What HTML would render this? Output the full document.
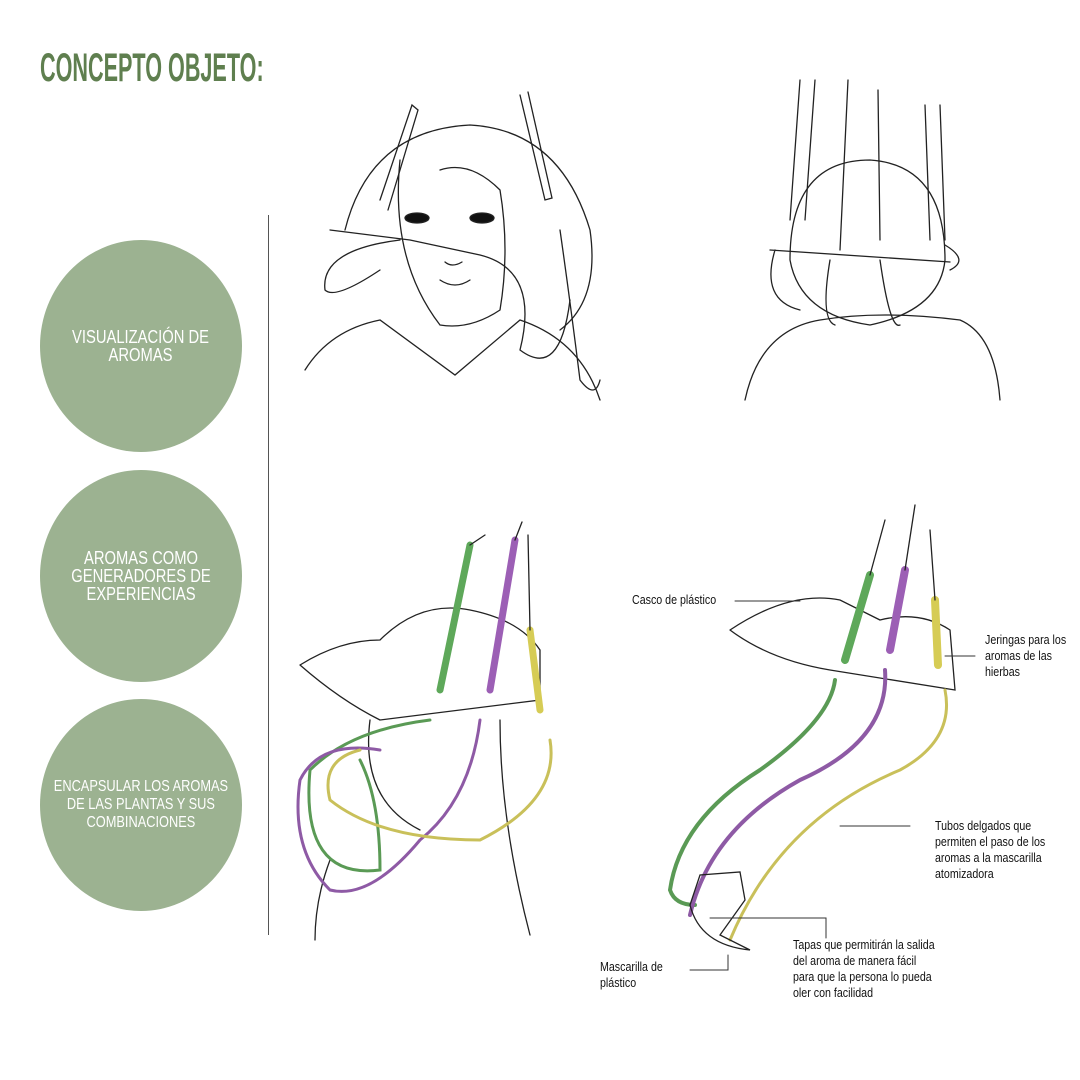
<!DOCTYPE html>
<html><head><meta charset="utf-8"><style>
html,body{margin:0;padding:0;background:#fff;}
body{width:1080px;height:1080px;position:relative;overflow:hidden;font-family:"Liberation Sans",sans-serif;}
.t{position:absolute;left:40px;top:46px;font-size:40px;font-weight:bold;color:#5f7f4f;transform:scaleX(0.54);transform-origin:left top;white-space:nowrap;}
.c{position:absolute;width:202px;height:212px;border-radius:50%;background:#9cb291;color:#fff;display:flex;align-items:center;justify-content:center;text-align:center;}
.c span{display:inline-block;white-space:nowrap;font-size:18px;line-height:18px;transform:scaleX(0.82);}
.vl{position:absolute;left:268px;top:215px;width:1px;height:720px;background:#555;}
.l{position:absolute;font-size:13px;line-height:16px;color:#111;white-space:nowrap;transform:scaleX(0.82);transform-origin:left top;}
</style></head><body>
<div class="t">CONCEPTO OBJETO:</div>
<div class="c" style="left:40px;top:240px;"><span>VISUALIZACIÓN DE<br>AROMAS</span></div>
<div class="c" style="left:40px;top:470px;"><span>AROMAS COMO<br>GENERADORES DE<br>EXPERIENCIAS</span></div>
<div class="c" style="left:40px;top:699px;"><span style="font-size:16px;transform:scaleX(0.8)">ENCAPSULAR LOS AROMAS<br>DE LAS PLANTAS Y SUS<br>COMBINACIONES</span></div>
<div class="vl"></div>
<svg width="1080" height="1080" style="position:absolute;left:0;top:0" fill="none" stroke="#222" stroke-width="1.3" stroke-linecap="round">
<path d="M305 370 Q330 330 380 320 L455 375 L520 320 Q580 340 600 400"/>
<path d="M345 230 Q370 130 470 125 Q560 130 590 230 Q600 300 560 330"/>
<path d="M400 160 Q390 260 440 325 Q470 330 500 310 Q510 250 500 190 Q470 160 440 170"/>
<ellipse cx="417" cy="218" rx="12" ry="5" fill="#111"/><ellipse cx="482" cy="218" rx="12" ry="5" fill="#111"/>
<path d="M440 280 Q455 290 470 280 M445 262 Q452 268 462 262"/>
<path d="M380 200 L412 105 L418 110 L388 210"/><path d="M520 95 L545 200 L552 198 L528 92"/>
<path d="M330 230 L410 240 L480 255 M400 240 Q320 250 325 290 Q335 300 380 270 M480 255 Q540 270 520 350 Q560 380 570 300"/>
<path d="M560 230 Q570 300 580 380 Q595 400 600 380"/>
<path d="M745 400 Q760 330 820 320 Q880 310 960 320 Q995 335 1000 400"/>
<path d="M790 260 Q790 160 870 160 Q945 165 945 260 Q940 310 870 325 Q800 315 790 260"/>
<path d="M800 80 L790 220 M815 80 L805 220 M848 80 L840 250 M878 90 L880 240 M925 105 L930 240 M940 105 L945 240"/>
<path d="M770 250 L950 262 M775 250 Q760 300 800 310 M945 245 Q970 260 950 270"/>
<path d="M830 260 Q820 320 835 325 M880 260 Q890 330 900 325"/>
<path d="M300 665 Q340 640 380 640 Q420 600 470 610 Q520 620 540 650 L540 700 L380 720 Q340 700 300 665"/>
<path d="M370 720 Q360 800 420 830 M500 720 Q500 820 530 935 M330 860 Q315 900 315 940"/>
<g stroke-width="7" stroke-linecap="round">
<path d="M440 690 L470 545" stroke="#5ea85a"/><path d="M490 690 L515 540" stroke="#9c5fb5"/><path d="M540 710 L530 630" stroke="#d6cc55"/>
</g>
<path d="M470 545 L485 535 M515 540 L522 522 M530 630 L528 535"/>
<g stroke-width="3">
<path d="M430 720 Q350 730 310 770 Q300 880 380 870 Q380 800 360 760" stroke="#5a9a55"/>
<path d="M480 720 Q470 800 420 840 Q370 900 330 890 Q290 850 300 780 Q320 740 380 750" stroke="#8e5aa5"/>
<path d="M550 740 Q560 800 480 840 Q380 840 330 800 Q320 760 360 750" stroke="#c9c05a"/>
</g>
<path d="M730 630 Q790 590 840 600 L880 620 Q920 610 950 630 L955 690 L830 670 Q770 660 730 630"/>
<g stroke-width="8">
<path d="M845 660 L870 575" stroke="#5ea85a"/><path d="M890 650 L905 570" stroke="#9c5fb5"/><path d="M938 665 L935 600" stroke="#d6cc55"/>
</g>
<path d="M870 575 L885 520 M905 570 L915 505 M935 600 L930 530"/>
<g stroke-width="4">
<path d="M835 680 Q830 720 760 770 Q680 820 670 890 Q675 905 695 905" stroke="#5a9a55"/>
<path d="M885 670 Q890 740 800 780 Q710 830 690 915" stroke="#8e5aa5"/>
</g>
<path d="M945 690 Q955 740 900 770 Q780 820 730 940" stroke="#c9c05a" stroke-width="3"/>
<path d="M690 905 L700 875 L740 872 L745 900 L720 935 L750 950 Q700 945 690 905"/>
<g stroke="#333" stroke-width="1">
<path d="M735 601 L800 601"/><path d="M945 656 L975 656"/><path d="M840 826 L910 826"/>
<path d="M710 918 L826 918 L826 938"/><path d="M690 970 L728 970 L728 955"/>
</g>
</svg>
<div class="l" style="left:632px;top:592px;">Casco de plástico</div>
<div class="l" style="left:985px;top:632px;">Jeringas para los<br>aromas de las<br>hierbas</div>
<div class="l" style="left:935px;top:818px;">Tubos delgados que<br>permiten el paso de los<br>aromas a la mascarilla<br>atomizadora</div>
<div class="l" style="left:793px;top:937px;">Tapas que permitirán la salida<br>del aroma de manera fácil<br>para que la persona lo pueda<br>oler con facilidad</div>
<div class="l" style="left:600px;top:959px;">Mascarilla de<br>plástico</div>
</body></html>
